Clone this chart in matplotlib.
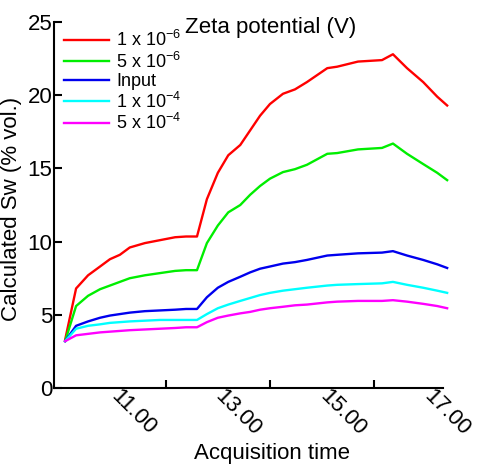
"""Calculated Sw vs acquisition time for several zeta potentials."""

import matplotlib
matplotlib.use('Agg')
import matplotlib.pyplot as plt
from matplotlib.transforms import ScaledTranslation

plt.rcParams['font.family'] = ['Liberation Sans', 'DejaVu Sans']
plt.rcParams['mathtext.fontset'] = 'custom'
plt.rcParams['mathtext.rm'] = 'Liberation Sans'
plt.rcParams['mathtext.it'] = 'Liberation Sans:italic'

# acquisition time (hours of day)
hours = [10.07, 10.28, 10.51, 10.74, 10.93, 11.12, 11.31, 11.60, 11.89, 12.18,
         12.39, 12.60, 12.79, 13.00, 13.20, 13.43, 13.62, 13.81, 14.00, 14.25,
         14.48, 14.71, 15.10, 15.29, 15.69, 16.15, 16.36, 16.63, 16.94, 17.21,
         17.40]

sw_1e6 = [3.3, 6.8, 7.7, 8.3, 8.8, 9.1, 9.6, 9.9, 10.1, 10.3,
          10.35, 10.35, 12.9, 14.7, 15.9, 16.6, 17.6, 18.6, 19.4, 20.1,
          20.4, 20.9, 21.85, 21.95, 22.3, 22.4, 22.8, 21.85, 20.9, 19.9,
          19.3]
sw_5e6 = [3.2, 5.6, 6.3, 6.75, 7.0, 7.25, 7.5, 7.7, 7.85, 8.0,
          8.05, 8.05, 9.9, 11.1, 12.0, 12.5, 13.2, 13.8, 14.3, 14.75,
          14.95, 15.25, 16.0, 16.05, 16.3, 16.4, 16.7, 16.0, 15.3, 14.7,
          14.2]
sw_input = [3.2, 4.25, 4.55, 4.8, 4.95, 5.05, 5.15, 5.25, 5.3, 5.35,
            5.4, 5.4, 6.2, 6.85, 7.25, 7.6, 7.9, 8.15, 8.3, 8.5,
            8.6, 8.75, 9.05, 9.1, 9.2, 9.25, 9.35, 9.05, 8.75, 8.45,
            8.2]
sw_1e4 = [3.2, 4.05, 4.25, 4.35, 4.45, 4.5, 4.55, 4.6, 4.65, 4.65,
          4.65, 4.65, 5.05, 5.45, 5.7, 5.95, 6.15, 6.35, 6.5, 6.65,
          6.75, 6.85, 7.0, 7.05, 7.1, 7.15, 7.25, 7.05, 6.85, 6.65,
          6.5]
sw_5e4 = [3.2, 3.6, 3.7, 3.8, 3.85, 3.9, 3.95, 4.0, 4.05, 4.1,
          4.15, 4.15, 4.5, 4.8, 4.95, 5.1, 5.2, 5.35, 5.45, 5.55,
          5.65, 5.7, 5.85, 5.9, 5.95, 5.95, 6.0, 5.9, 5.75, 5.6,
          5.45]

series = [sw_1e6, sw_5e6, sw_input, sw_1e4, sw_5e4]
labels = [r'1 x 10$^{-6}$', r'5 x 10$^{-6}$', 'Input',
          r'1 x 10$^{-4}$', r'5 x 10$^{-4}$']
colors = ['#ff0000', '#00ee00', '#0000ee', '#00ffff', '#ff00ff']

tick_hours = [12, 14, 16]
label_hours = [11, 13, 15, 17]

fig = plt.figure(figsize=(4.79, 4.68), dpi=100)
ax = fig.add_axes([0.1127, 0.1709, 0.8121, 0.782])

for vals, lab, col in zip(series, labels, colors):
    ax.plot(hours, vals, color=col, lw=1.7, label=lab, clip_on=False)

ax.set_xlim(9.856, 17.32)
ax.set_ylim(0, 25)
ax.set_yticks([0, 5, 10, 15, 20, 25])

ax.set_xticks(tick_hours)
ax.set_xticklabels([])
ax.set_xticks(label_hours, minor=True)
ax.set_xticklabels(['%.2f' % h for h in label_hours], minor=True,
                   rotation=-45, rotation_mode='anchor', ha='left', va='top',
                   fontsize=16)
ax.tick_params(axis='x', which='minor', length=0, pad=2)
ax.tick_params(axis='both', which='major', direction='in', length=6,
               width=1.5, labelsize=16, pad=1)
# nudge the rotated labels so they start just right of the hour mark
shift = ScaledTranslation(8 / 100, 5 / 100, fig.dpi_scale_trans)
for lbl in ax.xaxis.get_minorticklabels():
    lbl.set_transform(lbl.get_transform() + shift)

for side in ['top', 'right']:
    ax.spines[side].set_visible(False)
for side in ['left', 'bottom']:
    ax.spines[side].set_linewidth(1.5)

ax.set_ylabel('Calculated Sw (% vol.)', fontsize=16)
ax.yaxis.set_label_coords(-0.082, 0.49)
ax.set_xlabel('Acquisition time', fontsize=16)
ax.xaxis.set_label_coords(0.56, -0.178)
ax.xaxis.label.set_va('center')

ax.legend(loc='upper left', bbox_to_anchor=(0.026, 0.978), frameon=False,
          fontsize=13, handlelength=2.5, handletextpad=0.4, borderpad=0,
          borderaxespad=0, labelspacing=0.08)
fig.text(0.564, 0.941, 'Zeta potential (V)', fontsize=16,
         ha='center', va='center')

fig.savefig('out.png', dpi=100)
